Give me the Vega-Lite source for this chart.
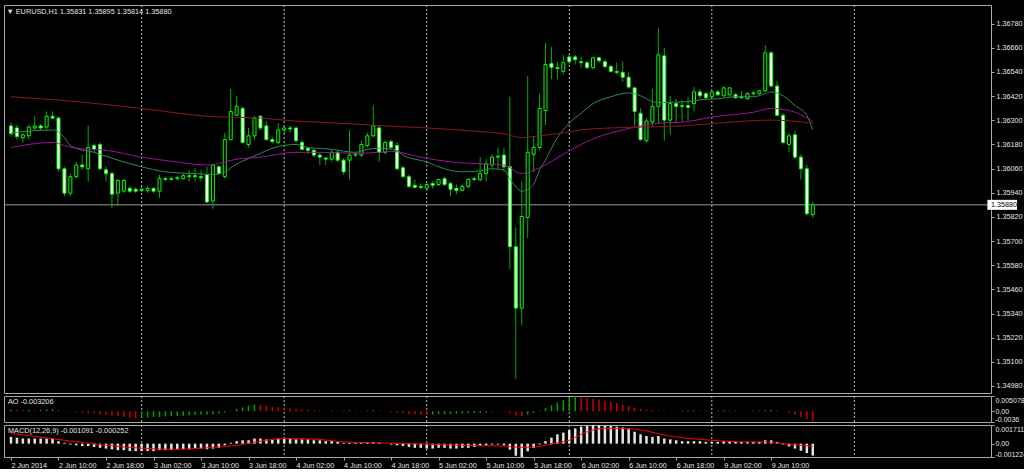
{
"$schema": "https://vega.github.io/schema/vega-lite/v6.json",
"background": "#000000",
"padding": {"left": 3, "top": 4, "right": 0, "bottom": 0},
"bounds": "flush",
"spacing": 3,
"config": {
 "view": {"stroke": "#a8a8a8", "strokeWidth": 1},
 "axis": {"labelFont": "Liberation Sans", "labelFontSize": 7.2, "labelColor": "#e6e6e6", "tickColor": "#a8a8a8", "tickSize": 3, "domain": false, "grid": false, "labelOverlap": false},
 "title": {"font": "Liberation Sans", "fontSize": 7.3, "color": "#e6e6e6", "fontWeight": "normal", "anchor": "start"}
},
"datasets": {
 "days": [{"n":22,"d":"2014-06-03"},{"n":46,"d":"2014-06-04"},{"n":70,"d":"2014-06-05"},{"n":94,"d":"2014-06-06"},{"n":118,"d":"2014-06-09"},{"n":142,"d":"2014-06-10"}],
 "bars": [
{"n":0,"o":1.36272,"h":1.36291,"l":1.36219,"c":1.36233,"ao":0.0006,"m":0.00062},
{"n":1,"o":1.36262,"h":1.36277,"l":1.36204,"c":1.36219,"ao":0.0005,"m":0.00055},
{"n":2,"o":1.36214,"h":1.36238,"l":1.3619,"c":1.36228,"ao":0.0004,"m":0.00047},
{"n":3,"o":1.36223,"h":1.36277,"l":1.36204,"c":1.36267,"ao":0.0004,"m":0.00047},
{"n":4,"o":1.36262,"h":1.3632,"l":1.36252,"c":1.36272,"ao":0.0003,"m":0.00047},
{"n":5,"o":1.36272,"h":1.36281,"l":1.36252,"c":1.36262,"ao":0.0004,"m":0.00047},
{"n":6,"o":1.36267,"h":1.36344,"l":1.36252,"c":1.3632,"ao":0.0006,"m":0.00047},
{"n":7,"o":1.3632,"h":1.36344,"l":1.36306,"c":1.36311,"ao":0.0007,"m":0.00047},
{"n":8,"o":1.36311,"h":1.3632,"l":1.36044,"c":1.36059,"ao":0.0004,"m":0.00023},
{"n":9,"o":1.36059,"h":1.36069,"l":1.35923,"c":1.35938,"ao":0.0001,"m":0.00008},
{"n":10,"o":1.35938,"h":1.36035,"l":1.35923,"c":1.3602,"ao":-0.0002,"m":-0.00008},
{"n":11,"o":1.3602,"h":1.36093,"l":1.3601,"c":1.36078,"ao":-0.0004,"m":-0.00015},
{"n":12,"o":1.36078,"h":1.36127,"l":1.36054,"c":1.36069,"ao":-0.0006,"m":-0.00022},
{"n":13,"o":1.36059,"h":1.36272,"l":1.35996,"c":1.36165,"ao":-0.0007,"m":-0.00022},
{"n":14,"o":1.36175,"h":1.36185,"l":1.36141,"c":1.36156,"ao":-0.0008,"m":-0.0003},
{"n":15,"o":1.3618,"h":1.3619,"l":1.36054,"c":1.36059,"ao":-0.001,"m":-0.00038},
{"n":16,"o":1.36054,"h":1.36069,"l":1.35996,"c":1.36035,"ao":-0.0012,"m":-0.00045},
{"n":17,"o":1.36035,"h":1.36044,"l":1.35865,"c":1.35933,"ao":-0.0015,"m":-0.00052},
{"n":18,"o":1.35938,"h":1.3601,"l":1.35875,"c":1.36001,"ao":-0.0017,"m":-0.0006},
{"n":19,"o":1.35948,"h":1.3601,"l":1.35938,"c":1.36001,"ao":-0.0019,"m":-0.0006},
{"n":20,"o":1.35962,"h":1.35972,"l":1.35938,"c":1.35948,"ao":-0.0021,"m":-0.00068},
{"n":21,"o":1.35957,"h":1.35967,"l":1.35938,"c":1.35948,"ao":-0.0023,"m":-0.00068},
{"n":22,"o":1.35957,"h":1.35967,"l":1.35943,"c":1.35952,"ao":-0.0022,"m":-0.00068},
{"n":23,"o":1.35952,"h":1.35972,"l":1.35938,"c":1.35962,"ao":-0.0021,"m":-0.00068},
{"n":24,"o":1.35962,"h":1.35967,"l":1.35938,"c":1.35948,"ao":-0.002,"m":-0.00068},
{"n":25,"o":1.35948,"h":1.3603,"l":1.35914,"c":1.3601,"ao":-0.0019,"m":-0.0006},
{"n":26,"o":1.3601,"h":1.3602,"l":1.35996,"c":1.36006,"ao":-0.0018,"m":-0.0006},
{"n":27,"o":1.36006,"h":1.3602,"l":1.36001,"c":1.3601,"ao":-0.0017,"m":-0.0006},
{"n":28,"o":1.3601,"h":1.36025,"l":1.36001,"c":1.36015,"ao":-0.0016,"m":-0.00052},
{"n":29,"o":1.3601,"h":1.36035,"l":1.36006,"c":1.36025,"ao":-0.0015,"m":-0.00052},
{"n":30,"o":1.3602,"h":1.36054,"l":1.35996,"c":1.36025,"ao":-0.0014,"m":-0.00052},
{"n":31,"o":1.36025,"h":1.36064,"l":1.35996,"c":1.3602,"ao":-0.0013,"m":-0.00045},
{"n":32,"o":1.3602,"h":1.36054,"l":1.35996,"c":1.36015,"ao":-0.0012,"m":-0.00045},
{"n":33,"o":1.3603,"h":1.36069,"l":1.35889,"c":1.35894,"ao":-0.0011,"m":-0.00052},
{"n":34,"o":1.35899,"h":1.36083,"l":1.3586,"c":1.36078,"ao":-0.001,"m":-0.00045},
{"n":35,"o":1.36069,"h":1.36078,"l":1.3603,"c":1.36035,"ao":-0.0008,"m":-0.00038},
{"n":36,"o":1.3602,"h":1.36238,"l":1.3601,"c":1.36204,"ao":-0.0004,"m":-0.00015},
{"n":37,"o":1.36204,"h":1.36456,"l":1.36199,"c":1.36344,"ao":0.0002,"m":0.00008},
{"n":38,"o":1.36325,"h":1.36422,"l":1.3632,"c":1.36369,"ao":0.0008,"m":0.00023},
{"n":39,"o":1.36359,"h":1.36369,"l":1.36185,"c":1.3619,"ao":0.0013,"m":0.00031},
{"n":40,"o":1.3618,"h":1.36262,"l":1.36165,"c":1.36223,"ao":0.0019,"m":0.00031},
{"n":41,"o":1.36223,"h":1.3632,"l":1.36204,"c":1.36311,"ao":0.0022,"m":0.00047},
{"n":42,"o":1.3632,"h":1.36325,"l":1.36252,"c":1.36262,"ao":0.0021,"m":0.00047},
{"n":43,"o":1.36272,"h":1.36296,"l":1.36199,"c":1.36204,"ao":0.0018,"m":0.00039},
{"n":44,"o":1.36204,"h":1.36219,"l":1.36185,"c":1.36194,"ao":0.0015,"m":0.00039},
{"n":45,"o":1.3619,"h":1.36286,"l":1.3618,"c":1.36252,"ao":0.0013,"m":0.00047},
{"n":46,"o":1.36252,"h":1.36277,"l":1.36238,"c":1.36262,"ao":0.0011,"m":0.00047},
{"n":47,"o":1.36262,"h":1.36272,"l":1.36238,"c":1.36257,"ao":0.001,"m":0.00047},
{"n":48,"o":1.36262,"h":1.36267,"l":1.3619,"c":1.36199,"ao":0.0008,"m":0.00039},
{"n":49,"o":1.3619,"h":1.36204,"l":1.36151,"c":1.36156,"ao":0.0006,"m":0.00039},
{"n":50,"o":1.36161,"h":1.36165,"l":1.36131,"c":1.36151,"ao":0.0005,"m":0.00039},
{"n":51,"o":1.36151,"h":1.36156,"l":1.36117,"c":1.36127,"ao":0.0003,"m":0.00031},
{"n":52,"o":1.36127,"h":1.36141,"l":1.36078,"c":1.36117,"ao":0.0002,"m":0.00031},
{"n":53,"o":1.36112,"h":1.36117,"l":1.36078,"c":1.36107,"ao":0.0001,"m":0.00023},
{"n":54,"o":1.36107,"h":1.36151,"l":1.36093,"c":1.36141,"ao":0.0002,"m":0.00023},
{"n":55,"o":1.36141,"h":1.36151,"l":1.36093,"c":1.36102,"ao":0.0001,"m":0.00016},
{"n":56,"o":1.36102,"h":1.36112,"l":1.3603,"c":1.36044,"ao":0.0002,"m":0.00008},
{"n":57,"o":1.36102,"h":1.36252,"l":1.36006,"c":1.36127,"ao":0.0003,"m":0.00008},
{"n":58,"o":1.36127,"h":1.36141,"l":1.36117,"c":1.36131,"ao":0.0002,"m":0.00008},
{"n":59,"o":1.36127,"h":1.36199,"l":1.36117,"c":1.3618,"ao":0.0001,"m":0.00008},
{"n":60,"o":1.36175,"h":1.36238,"l":1.36165,"c":1.36223,"ao":0.0002,"m":0.00016},
{"n":61,"o":1.36223,"h":1.36373,"l":1.36214,"c":1.36272,"ao":0.0003,"m":0.00016},
{"n":62,"o":1.36262,"h":1.36272,"l":1.36093,"c":1.36141,"ao":0.0002,"m":0.00008},
{"n":63,"o":1.36141,"h":1.36199,"l":1.36131,"c":1.3619,"ao":-0.0001,"m":0},
{"n":64,"o":1.36194,"h":1.36204,"l":1.36156,"c":1.36165,"ao":-0.0003,"m":-0.00008},
{"n":65,"o":1.36175,"h":1.3619,"l":1.36054,"c":1.36059,"ao":-0.0005,"m":-0.00015},
{"n":66,"o":1.36064,"h":1.36073,"l":1.36015,"c":1.3602,"ao":-0.0007,"m":-0.00022},
{"n":67,"o":1.3602,"h":1.3603,"l":1.35962,"c":1.35972,"ao":-0.0009,"m":-0.0003},
{"n":68,"o":1.35977,"h":1.36006,"l":1.35962,"c":1.35967,"ao":-0.001,"m":-0.00038},
{"n":69,"o":1.35972,"h":1.35986,"l":1.35957,"c":1.35967,"ao":-0.0011,"m":-0.00038},
{"n":70,"o":1.35962,"h":1.35991,"l":1.35957,"c":1.35981,"ao":-0.0012,"m":-0.00045},
{"n":71,"o":1.35986,"h":1.35996,"l":1.35962,"c":1.35977,"ao":-0.0011,"m":-0.00045},
{"n":72,"o":1.35981,"h":1.3601,"l":1.35972,"c":1.36006,"ao":-0.001,"m":-0.00038},
{"n":73,"o":1.3601,"h":1.3602,"l":1.35972,"c":1.35981,"ao":-0.001,"m":-0.00038},
{"n":74,"o":1.35986,"h":1.35996,"l":1.35923,"c":1.35957,"ao":-0.0009,"m":-0.00045},
{"n":75,"o":1.35962,"h":1.35981,"l":1.35933,"c":1.35952,"ao":-0.0008,"m":-0.00045},
{"n":76,"o":1.35952,"h":1.35981,"l":1.35948,"c":1.35972,"ao":-0.0008,"m":-0.00038},
{"n":77,"o":1.35972,"h":1.36015,"l":1.35962,"c":1.36006,"ao":-0.0007,"m":-0.00038},
{"n":78,"o":1.3601,"h":1.3602,"l":1.35996,"c":1.36006,"ao":-0.0006,"m":-0.0003},
{"n":79,"o":1.36006,"h":1.36117,"l":1.35996,"c":1.36035,"ao":-0.0005,"m":-0.00022},
{"n":80,"o":1.36035,"h":1.36107,"l":1.35996,"c":1.36083,"ao":-0.0004,"m":-0.00015},
{"n":81,"o":1.36078,"h":1.36131,"l":1.36059,"c":1.36117,"ao":-0.0002,"m":-0.00008},
{"n":82,"o":1.36117,"h":1.36165,"l":1.36059,"c":1.36122,"ao":-0.0001,"m":-0.00008},
{"n":83,"o":1.36127,"h":1.36165,"l":1.36044,"c":1.36069,"ao":-0.0003,"m":-0.00015},
{"n":84,"o":1.36069,"h":1.36417,"l":1.3556,"c":1.35672,"ao":-0.0008,"m":-0.00055},
{"n":85,"o":1.35672,"h":1.35768,"l":1.35013,"c":1.35367,"ao":-0.0014,"m":-0.0011},
{"n":86,"o":1.35367,"h":1.35996,"l":1.3528,"c":1.35822,"ao":-0.0016,"m":-0.00122},
{"n":87,"o":1.35817,"h":1.36519,"l":1.35715,"c":1.36141,"ao":-0.0011,"m":-0.0007},
{"n":88,"o":1.36131,"h":1.36223,"l":1.36044,"c":1.36165,"ao":-0.0006,"m":-0.0004},
{"n":89,"o":1.36165,"h":1.36432,"l":1.36151,"c":1.36359,"ao":0.0002,"m":-0.00008},
{"n":90,"o":1.36349,"h":1.36683,"l":1.36277,"c":1.36577,"ao":0.0011,"m":0.00023},
{"n":91,"o":1.36582,"h":1.36664,"l":1.36504,"c":1.36562,"ao":0.002,"m":0.00055},
{"n":92,"o":1.36562,"h":1.36591,"l":1.36504,"c":1.36557,"ao":0.0029,"m":0.00086},
{"n":93,"o":1.36543,"h":1.36625,"l":1.36528,"c":1.36586,"ao":0.0038,"m":0.00101},
{"n":94,"o":1.36615,"h":1.36625,"l":1.36577,"c":1.36591,"ao":0.0046,"m":0.00125},
{"n":95,"o":1.36615,"h":1.36625,"l":1.36577,"c":1.36601,"ao":0.00507,"m":0.0014},
{"n":96,"o":1.36591,"h":1.36615,"l":1.36562,"c":1.36586,"ao":0.0048,"m":0.00156},
{"n":97,"o":1.36586,"h":1.36596,"l":1.36552,"c":1.36562,"ao":0.0045,"m":0.00164},
{"n":98,"o":1.36562,"h":1.36615,"l":1.36552,"c":1.36611,"ao":0.0042,"m":0.00171},
{"n":99,"o":1.36611,"h":1.36615,"l":1.36586,"c":1.36596,"ao":0.0039,"m":0.00171},
{"n":100,"o":1.36591,"h":1.36601,"l":1.36557,"c":1.36567,"ao":0.0035,"m":0.00164},
{"n":101,"o":1.36567,"h":1.36577,"l":1.36538,"c":1.36543,"ao":0.0031,"m":0.00164},
{"n":102,"o":1.36543,"h":1.36586,"l":1.36528,"c":1.36538,"ao":0.0027,"m":0.00156},
{"n":103,"o":1.36538,"h":1.36591,"l":1.3649,"c":1.36514,"ao":0.0022,"m":0.00148},
{"n":104,"o":1.36514,"h":1.36538,"l":1.36456,"c":1.36465,"ao":0.0017,"m":0.00133},
{"n":105,"o":1.36461,"h":1.36465,"l":1.36272,"c":1.36344,"ao":0.0012,"m":0.00109},
{"n":106,"o":1.36335,"h":1.36359,"l":1.36199,"c":1.36204,"ao":0.0008,"m":0.00086},
{"n":107,"o":1.36199,"h":1.36311,"l":1.3619,"c":1.36296,"ao":0.0005,"m":0.0007},
{"n":108,"o":1.36291,"h":1.36456,"l":1.36272,"c":1.36369,"ao":0.0004,"m":0.00062},
{"n":109,"o":1.36369,"h":1.36756,"l":1.36286,"c":1.36625,"ao":0.0003,"m":0.0007},
{"n":110,"o":1.3662,"h":1.36659,"l":1.36199,"c":1.36301,"ao":0.0002,"m":0.00047},
{"n":111,"o":1.36301,"h":1.36422,"l":1.36228,"c":1.36383,"ao":0.0001,"m":0.00039},
{"n":112,"o":1.36383,"h":1.36407,"l":1.36286,"c":1.36369,"ao":0.0001,"m":0.00031},
{"n":113,"o":1.36373,"h":1.36398,"l":1.36296,"c":1.36369,"ao":0.0002,"m":0.00023},
{"n":114,"o":1.36373,"h":1.36417,"l":1.36301,"c":1.36364,"ao":0.0002,"m":0.00023},
{"n":115,"o":1.36383,"h":1.36465,"l":1.36344,"c":1.36441,"ao":0.0003,"m":0.00023},
{"n":116,"o":1.36441,"h":1.36456,"l":1.36407,"c":1.36422,"ao":0.0002,"m":0.00023},
{"n":117,"o":1.36432,"h":1.36441,"l":1.36402,"c":1.36412,"ao":0.0002,"m":0.00016},
{"n":118,"o":1.36417,"h":1.36451,"l":1.36407,"c":1.36441,"ao":0.0001,"m":0.00016},
{"n":119,"o":1.36441,"h":1.36451,"l":1.36422,"c":1.36427,"ao":0.0002,"m":0.00016},
{"n":120,"o":1.36422,"h":1.3647,"l":1.36417,"c":1.36461,"ao":0.0003,"m":0.00023},
{"n":121,"o":1.36427,"h":1.36465,"l":1.36417,"c":1.36461,"ao":0.0002,"m":0.00023},
{"n":122,"o":1.36427,"h":1.36436,"l":1.36407,"c":1.36412,"ao":0.0002,"m":0.00023},
{"n":123,"o":1.36417,"h":1.36446,"l":1.36407,"c":1.36412,"ao":0.0001,"m":0.00016},
{"n":124,"o":1.36407,"h":1.36441,"l":1.36402,"c":1.36432,"ao":0.0001,"m":0.00016},
{"n":125,"o":1.36432,"h":1.36446,"l":1.36422,"c":1.36436,"ao":0.0002,"m":0.00016},
{"n":126,"o":1.36432,"h":1.36451,"l":1.36427,"c":1.36446,"ao":0.0002,"m":0.00016},
{"n":127,"o":1.36446,"h":1.36674,"l":1.36441,"c":1.36635,"ao":0.0003,"m":0.00031},
{"n":128,"o":1.36635,"h":1.36644,"l":1.36465,"c":1.3647,"ao":0.0004,"m":0.00031},
{"n":129,"o":1.3647,"h":1.36494,"l":1.3632,"c":1.36325,"ao":0.0002,"m":0.00016},
{"n":130,"o":1.36325,"h":1.36335,"l":1.3618,"c":1.3619,"ao":0,"m":-0.00008},
{"n":131,"o":1.3618,"h":1.36238,"l":1.36141,"c":1.36223,"ao":-0.0005,"m":-0.00025},
{"n":132,"o":1.36228,"h":1.36248,"l":1.36107,"c":1.36117,"ao":-0.0012,"m":-0.00045},
{"n":133,"o":1.36117,"h":1.36131,"l":1.36006,"c":1.36059,"ao":-0.0019,"m":-0.00065},
{"n":134,"o":1.36059,"h":1.36078,"l":1.35827,"c":1.35836,"ao":-0.0026,"m":-0.00087},
{"n":135,"o":1.35831,"h":1.35895,"l":1.35814,"c":1.3588,"ao":-0.003206,"m":-0.001091}
 ],
 "ma": [
{"k":"fast","n":0,"v":1.36238},{"k":"fast","n":7,"v":1.36252},{"k":"fast","n":9,"v":1.36214},{"k":"fast","n":10,"v":1.36175},{"k":"fast","n":11,"v":1.36161},{"k":"fast","n":14,"v":1.36141},{"k":"fast","n":18,"v":1.36102},{"k":"fast","n":22,"v":1.36069},{"k":"fast","n":26,"v":1.36044},{"k":"fast","n":31,"v":1.36035},{"k":"fast","n":34,"v":1.3603},{"k":"fast","n":36,"v":1.36044},{"k":"fast","n":38,"v":1.36083},{"k":"fast","n":40,"v":1.3611},{"k":"fast","n":42,"v":1.36136},{"k":"fast","n":44,"v":1.36161},{"k":"fast","n":48,"v":1.3618},{"k":"fast","n":50,"v":1.36165},{"k":"fast","n":54,"v":1.36156},{"k":"fast","n":58,"v":1.36141},{"k":"fast","n":60,"v":1.36156},{"k":"fast","n":62,"v":1.36161},{"k":"fast","n":65,"v":1.36151},{"k":"fast","n":66,"v":1.36127},{"k":"fast","n":70,"v":1.36093},{"k":"fast","n":73,"v":1.36059},{"k":"fast","n":76,"v":1.36044},{"k":"fast","n":79,"v":1.36049},{"k":"fast","n":81,"v":1.36059},{"k":"fast","n":83,"v":1.36054},{"k":"fast","n":84,"v":1.3601},{"k":"fast","n":86,"v":1.35948},{"k":"fast","n":87,"v":1.35957},{"k":"fast","n":88,"v":1.35981},{"k":"fast","n":89,"v":1.36054},{"k":"fast","n":90,"v":1.36102},{"k":"fast","n":91,"v":1.36161},{"k":"fast","n":92,"v":1.36214},{"k":"fast","n":93,"v":1.36252},{"k":"fast","n":94,"v":1.36286},{"k":"fast","n":96,"v":1.36335},{"k":"fast","n":98,"v":1.36383},{"k":"fast","n":101,"v":1.36417},{"k":"fast","n":104,"v":1.36436},{"k":"fast","n":106,"v":1.36422},{"k":"fast","n":108,"v":1.36393},{"k":"fast","n":109,"v":1.36388},{"k":"fast","n":114,"v":1.36393},{"k":"fast","n":116,"v":1.36402},{"k":"fast","n":119,"v":1.36407},{"k":"fast","n":122,"v":1.36417},{"k":"fast","n":125,"v":1.36417},{"k":"fast","n":127,"v":1.36432},{"k":"fast","n":128,"v":1.36441},{"k":"fast","n":130,"v":1.36422},{"k":"fast","n":132,"v":1.36373},{"k":"fast","n":134,"v":1.36325},{"k":"fast","n":135,"v":1.36252},
{"k":"mid","n":0,"v":1.36165},{"k":"mid","n":7,"v":1.3619},{"k":"mid","n":9,"v":1.36175},{"k":"mid","n":11,"v":1.36161},{"k":"mid","n":16,"v":1.36151},{"k":"mid","n":22,"v":1.36117},{"k":"mid","n":28,"v":1.36093},{"k":"mid","n":33,"v":1.36078},{"k":"mid","n":36,"v":1.36093},{"k":"mid","n":38,"v":1.36107},{"k":"mid","n":42,"v":1.36117},{"k":"mid","n":48,"v":1.36141},{"k":"mid","n":52,"v":1.36141},{"k":"mid","n":58,"v":1.36136},{"k":"mid","n":62,"v":1.36141},{"k":"mid","n":64,"v":1.36146},{"k":"mid","n":69,"v":1.36117},{"k":"mid","n":74,"v":1.36093},{"k":"mid","n":80,"v":1.36083},{"k":"mid","n":83,"v":1.36078},{"k":"mid","n":86,"v":1.36035},{"k":"mid","n":89,"v":1.36064},{"k":"mid","n":93,"v":1.36131},{"k":"mid","n":96,"v":1.3618},{"k":"mid","n":99,"v":1.36219},{"k":"mid","n":103,"v":1.36252},{"k":"mid","n":106,"v":1.36272},{"k":"mid","n":109,"v":1.36286},{"k":"mid","n":113,"v":1.36291},{"k":"mid","n":119,"v":1.3632},{"k":"mid","n":125,"v":1.3634},{"k":"mid","n":128,"v":1.36359},{"k":"mid","n":131,"v":1.36349},{"k":"mid","n":135,"v":1.36296},
{"k":"slow","n":0,"v":1.36417},{"k":"slow","n":11,"v":1.36393},{"k":"slow","n":22,"v":1.36359},{"k":"slow","n":33,"v":1.3632},{"k":"slow","n":42,"v":1.36311},{"k":"slow","n":48,"v":1.36296},{"k":"slow","n":55,"v":1.36286},{"k":"slow","n":63,"v":1.36272},{"k":"slow","n":70,"v":1.36262},{"k":"slow","n":77,"v":1.36248},{"k":"slow","n":83,"v":1.36233},{"k":"slow","n":86,"v":1.36214},{"k":"slow","n":89,"v":1.36223},{"k":"slow","n":93,"v":1.36238},{"k":"slow","n":96,"v":1.36252},{"k":"slow","n":101,"v":1.36262},{"k":"slow","n":107,"v":1.36267},{"k":"slow","n":113,"v":1.36272},{"k":"slow","n":119,"v":1.36286},{"k":"slow","n":128,"v":1.36301},{"k":"slow","n":135,"v":1.36286}
 ],
 "sig": [
{"n":0,"s":0.00094},{"n":9,"s":0.00031},{"n":16,"s":-0.00015},{"n":23,"s":-0.00045},{"n":27,"s":-0.00052},{"n":33,"s":-0.00038},{"n":38,"s":-0.00015},{"n":43,"s":0.00031},{"n":46,"s":0.00047},{"n":52,"s":0.00039},{"n":56,"s":0.00016},{"n":62,"s":0.00008},{"n":67,"s":0},{"n":72,"s":-0.00008},{"n":78,"s":-0.00018},{"n":83,"s":-0.00022},{"n":86,"s":-0.00035},{"n":89,"s":-0.00025},{"n":92,"s":0.00008},{"n":94,"s":0.00031},{"n":96,"s":0.00086},{"n":98,"s":0.00125},{"n":100,"s":0.0014},{"n":103,"s":0.0014},{"n":107,"s":0.00117},{"n":110,"s":0.00078},{"n":113,"s":0.00055},{"n":118,"s":0.00031},{"n":124,"s":0.00016},{"n":127,"s":0.00016},{"n":130,"s":0},{"n":135,"s":-0.000252}
 ]
},
"vconcat": [
 {
  "width": 987, "height": 388,
  "title": {"text": "▼  EURUSD,H1 1.35831 1.35895 1.35814 1.35880", "offset": -11, "dx": 3},
  "layer": [
   {"data": {"name": "days"}, "mark": {"type": "rule", "color": "#bdbdbd", "strokeDash": [2, 2]},
    "encoding": {"x": {"field": "n", "type": "quantitative", "scale": {"domain": [-0.333, 164.167], "nice": false, "zero": false}, "axis": null}}},
   {"data": {"name": "bars"}, "transform": [{"filter": "datum.n == 135"}], "mark": {"type": "rule", "color": "#9a9a9a"},
    "encoding": {"y": {"field": "c", "type": "quantitative", "scale": {"domain": [1.3497, 1.36848], "nice": false, "zero": false}}}},
   {"data": {"name": "bars"}, "mark": {"type": "rule", "color": "#00b000", "strokeWidth": 1},
    "encoding": {
     "x": {"field": "n", "type": "quantitative", "scale": {"domain": [-0.333, 164.167], "nice": false, "zero": false}, "axis": null},
     "y": {"field": "l", "type": "quantitative", "scale": {"domain": [1.3497, 1.36848], "nice": false, "zero": false},
      "axis": {"orient": "right", "title": null, "tickCount": 40, "values": [1.3498, 1.351, 1.3522, 1.3534, 1.3546, 1.3558, 1.357, 1.3582, 1.3594, 1.3606, 1.3618, 1.363, 1.3642, 1.3654, 1.3666, 1.3678], "format": ".5f", "labelPadding": 2, "labelOverlap": false, "labelFlush": false}},
     "y2": {"field": "h"}}},
   {"data": {"name": "bars"}, "mark": {"type": "bar", "size": 3, "stroke": "#00ff00", "strokeWidth": 1},
    "encoding": {
     "x": {"field": "n", "type": "quantitative", "scale": {"domain": [-0.333, 164.167], "nice": false, "zero": false}, "axis": null},
     "y": {"field": "o", "type": "quantitative", "scale": {"domain": [1.3497, 1.36848], "nice": false, "zero": false}},
     "y2": {"field": "c"},
     "fill": {"condition": {"test": "datum.c < datum.o", "value": "#ffffff"}, "value": "#000000"}}},
   {"data": {"name": "ma"}, "mark": {"type": "line", "strokeWidth": 1, "interpolate": "monotone"},
    "encoding": {
     "x": {"field": "n", "type": "quantitative", "scale": {"domain": [-0.333, 164.167], "nice": false, "zero": false}, "axis": null},
     "y": {"field": "v", "type": "quantitative", "scale": {"domain": [1.3497, 1.36848], "nice": false, "zero": false}},
     "color": {"field": "k", "type": "nominal", "scale": {"domain": ["fast", "mid", "slow"], "range": ["#2e8b57", "#a010a0", "#8b1a1a"]}, "legend": null}}},
   {"data": {"name": "bars"}, "transform": [{"filter": "datum.n == 135"}], "mark": {"type": "bar", "size": 10, "fill": "#ffffff", "orient": "horizontal"},
    "encoding": {
     "x": {"datum": 164.4, "type": "quantitative"},
     "x2": {"datum": 169.4},
     "y": {"field": "c", "type": "quantitative"}}},
   {"data": {"name": "bars"}, "transform": [{"filter": "datum.n == 135"}], "mark": {"type": "text", "align": "left", "baseline": "middle", "color": "#000000", "font": "Liberation Sans", "fontSize": 7.2},
    "encoding": {
     "x": {"datum": 165.0, "type": "quantitative"},
     "y": {"field": "c", "type": "quantitative"},
     "text": {"field": "c", "type": "quantitative", "format": ".5f"}}}
  ]
 },
 {
  "width": 987, "height": 26,
  "title": {"text": "AO -0.003206", "offset": -10, "dx": 4},
  "layer": [
   {"data": {"name": "days"}, "mark": {"type": "rule", "color": "#bdbdbd", "strokeDash": [2, 2]},
    "encoding": {"x": {"field": "n", "type": "quantitative", "scale": {"domain": [-0.333, 164.167], "nice": false, "zero": false}, "axis": null}}},
   {"data": {"name": "bars"},
    "transform": [
     {"window": [{"op": "lag", "field": "ao", "as": "prev"}], "sort": [{"field": "n", "order": "ascending"}]},
     {"calculate": "datum.prev == null || datum.ao >= datum.prev ? 'up' : 'down'", "as": "dir"}
    ],
    "mark": {"type": "bar", "size": 1.5},
    "encoding": {
     "x": {"field": "n", "type": "quantitative", "scale": {"domain": [-0.333, 164.167], "nice": false, "zero": false}, "axis": null},
     "y": {"field": "ao", "type": "quantitative", "scale": {"domain": [-0.0036, 0.005078], "nice": false},
      "axis": {"orient": "right", "title": null, "tickCount": 10, "values": [-0.0036, 0, 0.005078], "labelFlush": true, "labelPadding": 1, "labelFontSize": 7, "labelExpr": "datum.value == 0 ? '0.00' : '' + datum.value"}},
     "color": {"condition": {"test": "datum.dir == 'up'", "value": "#00a000"}, "value": "#d00000"}}}
  ]
 },
 {
  "width": 987, "height": 32,
  "title": {"text": "MACD(12,26,9) -0.001091 -0.000252", "offset": -10, "dx": 4},
  "layer": [
   {"data": {"name": "days"}, "mark": {"type": "rule", "color": "#bdbdbd", "strokeDash": [2, 2]},
    "encoding": {"x": {"field": "n", "type": "quantitative", "scale": {"domain": [-0.333, 164.167], "nice": false, "zero": false},
     "axis": {"orient": "bottom", "title": null, "tickCount": 40, "values": [0, 8, 16, 24, 32, 40, 48, 56, 64, 72, 80, 88, 96, 104, 112, 120, 128], "labelAlign": "left", "labelPadding": 1, "labelFlush": false, "labelOverlap": false,
      "labelExpr": "datum.value == 0 ? '2 Jun 2014' : [2,3,4,5,6,9,10][floor((datum.value + 2) / 24)] + ' Jun ' + ((datum.value + 2) % 24 < 10 ? '0' : '') + ((datum.value + 2) % 24) + ':00'"}}}},
   {"data": {"name": "bars"}, "mark": {"type": "bar", "size": 2.5, "color": "#e4e4e4"},
    "encoding": {
     "x": {"field": "n", "type": "quantitative", "scale": {"domain": [-0.333, 164.167], "nice": false, "zero": false}},
     "y": {"field": "m", "type": "quantitative", "scale": {"domain": [-0.001224, 0.001711], "nice": false},
      "axis": {"orient": "right", "title": null, "tickCount": 10, "values": [-0.001224, 0, 0.001711], "labelFlush": true, "labelPadding": 1, "labelFontSize": 7, "labelExpr": "datum.value == 0 ? '0.00' : '' + datum.value"}}}},
   {"data": {"name": "sig"}, "mark": {"type": "line", "color": "#ff0000", "strokeWidth": 1, "interpolate": "monotone"},
    "encoding": {
     "x": {"field": "n", "type": "quantitative", "scale": {"domain": [-0.333, 164.167], "nice": false, "zero": false}},
     "y": {"field": "s", "type": "quantitative", "scale": {"domain": [-0.001224, 0.001711], "nice": false}}}}
  ]
 }
]
}
